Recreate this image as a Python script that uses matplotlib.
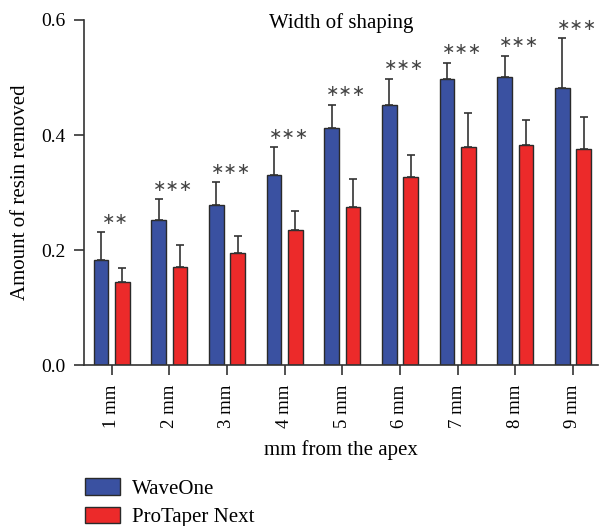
import matplotlib
matplotlib.use("Agg")
import matplotlib.pyplot as plt
import numpy as np
from matplotlib.patches import Patch

categories = ["1 mm", "2 mm", "3 mm", "4 mm", "5 mm", "6 mm", "7 mm", "8 mm", "9 mm"]
waveone = [0.183, 0.252, 0.279, 0.330, 0.413, 0.453, 0.497, 0.501, 0.481]
waveone_err = [0.048, 0.036, 0.039, 0.049, 0.040, 0.045, 0.029, 0.037, 0.087]
protaper = [0.144, 0.170, 0.195, 0.234, 0.274, 0.327, 0.379, 0.383, 0.375]
protaper_err = [0.025, 0.038, 0.029, 0.033, 0.050, 0.039, 0.060, 0.043, 0.057]
stars = ["∗∗", "∗∗∗", "∗∗∗", "∗∗∗", "∗∗∗", "∗∗∗", "∗∗∗", "∗∗∗", "∗∗∗"]

blue = "#3A51A1"
red = "#EC2A2A"
serif = ["Liberation Serif", "DejaVu Serif"]
plt.rcParams['font.family'] = serif

fig = plt.figure(figsize=(6.0, 5.26), dpi=100)
ax = fig.add_axes([0.14, 0.306, 0.857, 0.656])

x = np.arange(len(categories))
w = 0.255
off = 0.185
ax.bar(x - off, waveone, w, color=blue, edgecolor="#2a2a2a", linewidth=1.0,
       yerr=[np.zeros(len(x)), waveone_err], capsize=3,
       error_kw=dict(ecolor="#333333", elinewidth=1.2, capthick=1.2))
ax.bar(x + off, protaper, w, color=red, edgecolor="#2a2a2a", linewidth=1.0,
       yerr=[np.zeros(len(x)), protaper_err], capsize=3,
       error_kw=dict(ecolor="#333333", elinewidth=1.2, capthick=1.2))

for i, s in enumerate(stars):
    top = waveone[i] + waveone_err[i]
    ax.annotate(s, (x[i] + 0.07, top), xytext=(0, 4), textcoords="offset points",
                ha="center", va="bottom", fontsize=11.5, color="#444444",
                family=["DejaVu Sans"])

ax.set_xlim(-0.48, 8.44)
ax.set_ylim(0, 0.6)
ax.set_yticks([0.0, 0.2, 0.4, 0.6])
ax.set_yticklabels(["0.0", "0.2", "0.4", "0.6"], fontsize=14)
ax.set_xticks(x)
ax.set_xticklabels(categories, rotation=90, fontsize=13.5)
ax.tick_params(axis="both", direction="out", length=7, width=1.2, color="#333333")
ax.tick_params(axis="y", pad=6)
ax.tick_params(axis="x", pad=7)
for sp in ["top", "right"]:
    ax.spines[sp].set_visible(False)
for sp in ["left", "bottom"]:
    ax.spines[sp].set_linewidth(1.2)
    ax.spines[sp].set_color("#333333")

ax.set_title("Width of shaping", fontsize=15, pad=-6, y=1.0)
ax.set_ylabel("Amount of resin removed", fontsize=15, labelpad=8)
ax.set_xlabel("mm from the apex", fontsize=15, labelpad=9)

handles = [Patch(facecolor=blue, edgecolor="#2a2a2a", label="WaveOne"),
           Patch(facecolor=red, edgecolor="#2a2a2a", label="ProTaper Next")]
fig.legend(handles=handles, loc="lower left", bbox_to_anchor=(0.138, -0.006),
           frameon=False, fontsize=15, handlelength=1.68, handleheight=0.82,
           handletextpad=0.58, labelspacing=0.38, borderpad=0.1, borderaxespad=0)

fig.savefig("out.png", dpi=100)
